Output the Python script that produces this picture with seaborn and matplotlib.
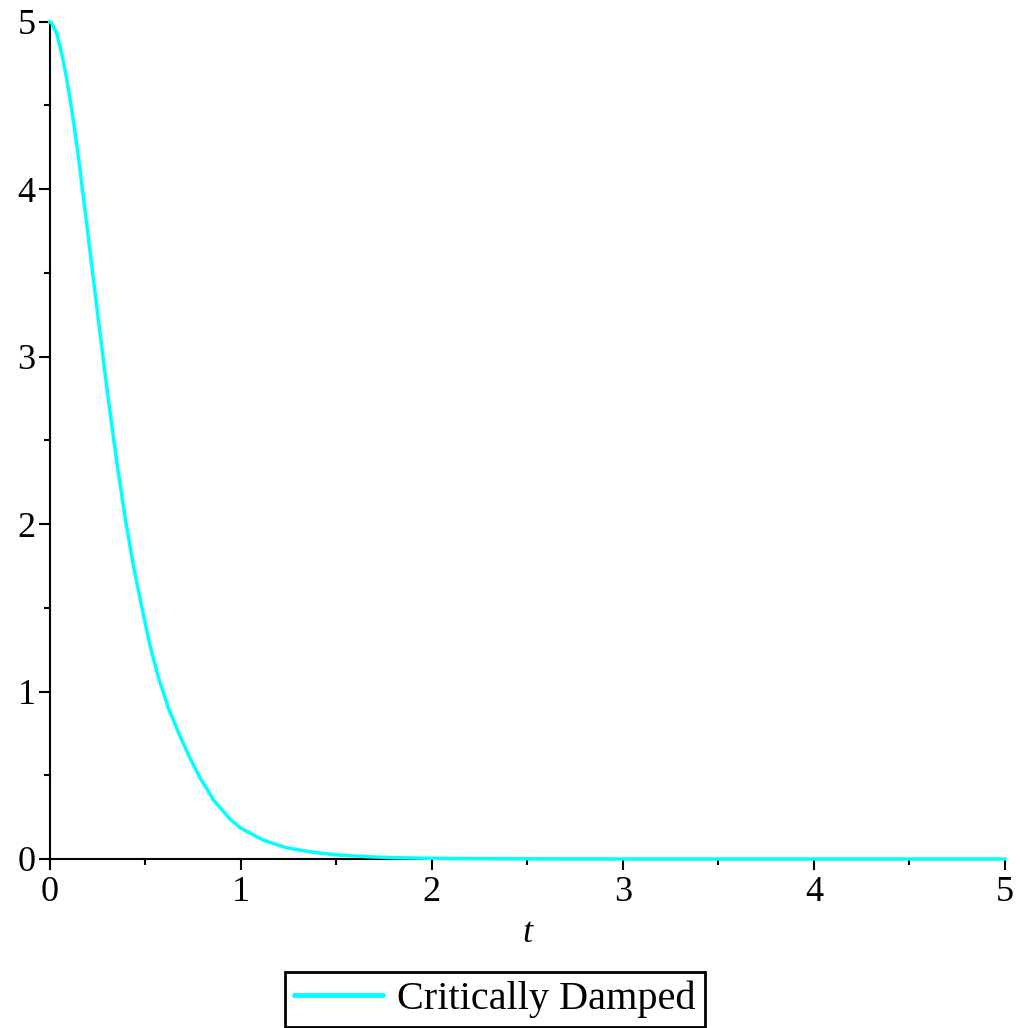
import pandas as pd
import numpy as np
import matplotlib
matplotlib.use('Agg')
import matplotlib.pyplot as plt
import seaborn as sns

# valores (curva críticamente amortiguada)
t_vals = [0, 0.01, 0.038, 0.064, 0.085, 0.103, 0.121, 0.138, 0.152, 0.17,
          0.196, 0.218, 0.239, 0.262, 0.29, 0.309, 0.336, 0.362, 0.397, 0.44,
          0.466, 0.492, 0.527, 0.571, 0.623, 0.684, 0.736, 0.788, 0.858, 0.945,
          1.0, 1.119, 1.241, 1.38, 1.502, 1.65, 1.8, 2.0, 2.3, 2.7,
          3.0, 4.0, 5.0]
x_vals = [5.0, 4.995, 4.93, 4.81, 4.69, 4.57, 4.44, 4.305, 4.185, 4.02,
          3.78, 3.573, 3.376, 3.162, 2.907, 2.738, 2.506, 2.293, 2.03, 1.746,
          1.60, 1.455, 1.27, 1.08, 0.90, 0.73, 0.60, 0.485, 0.353, 0.238,
          0.185, 0.112, 0.067, 0.04, 0.025, 0.014, 0.008, 0.004, 0.0015, 0.0004,
          0.0, 0.0, 0.0]
serie = "Critically Damped"
major_ticks = [0, 1, 2, 3, 4, 5]

df = pd.DataFrame({"t": t_vals, "x": x_vals, "serie": serie})

sns.set_style("ticks")
plt.rcParams['font.family'] = ['Liberation Serif', 'DejaVu Serif']
plt.rcParams['text.color'] = 'black'
plt.rcParams['xtick.color'] = 'black'
plt.rcParams['ytick.color'] = 'black'
plt.rcParams['axes.labelcolor'] = 'black'

fig = plt.figure(figsize=(10.21, 10.28), dpi=100)
ax = fig.add_axes([0.0485, 0.1644, 0.9358, 0.8145])

sns.lineplot(data=df, x="t", y="x", hue="serie", palette=["#00FFFF"],
             linewidth=2.5, ax=ax, legend=False, clip_on=False, zorder=3)

ax.set_xlim(0, 5)
ax.set_ylim(0, 5)
ax.set_xticks(major_ticks)
ax.set_yticks(major_ticks)
ax.set_xticks(np.arange(0.5, 5, 1), minor=True)
ax.set_yticks(np.arange(0.5, 5, 1), minor=True)
ax.tick_params(axis="both", which="major", length=8, width=1.5,
               labelsize=26, pad=4, color="black", labelcolor="black")
ax.tick_params(axis="both", which="minor", length=4, width=1.5, color="black")
ax.tick_params(axis="y", pad=2)

sns.despine(ax=ax)
for s in ["left", "bottom"]:
    ax.spines[s].set_linewidth(1.5)
    ax.spines[s].set_color("black")

ax.set_xlabel("t", fontsize=26, style="italic", labelpad=6, color="black")
ax.set_ylabel("")

handle = plt.Line2D([], [], color="#00FFFF", linewidth=3.5)
leg = fig.legend([handle], [serie], loc="center",
                 bbox_to_anchor=(0.4848, 0.0277), fontsize=29,
                 frameon=True, fancybox=False, edgecolor="black",
                 handlelength=2.2, handletextpad=0.37,
                 borderpad=0.22, borderaxespad=0)
leg.get_frame().set_linewidth(2)
leg.get_frame().set_alpha(1)
for txt in leg.get_texts():
    txt.set_color("black")

plt.savefig("out.png", dpi=100)
plt.close()
